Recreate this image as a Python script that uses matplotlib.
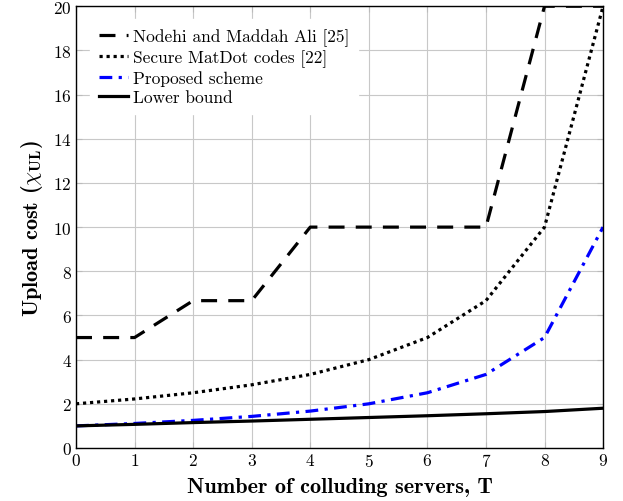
import matplotlib
matplotlib.use("Agg")
import matplotlib.pyplot as plt

plt.rcParams['font.family'] = ['cmr10', 'DejaVu Serif']
plt.rcParams['mathtext.fontset'] = 'cm'
plt.rcParams['axes.formatter.use_mathtext'] = True

T = [0, 1, 2, 3, 4, 5, 6, 7, 8, 9]
nodehi = [5, 5, 6.67, 6.67, 10, 10, 10, 10, 20, 20]
matdot = [2, 2.22, 2.5, 2.86, 3.33, 4, 5, 6.67, 10, 20]
proposed = [1, 1.11, 1.25, 1.43, 1.67, 2, 2.5, 3.33, 5, 10]
lower = [1, 1.07, 1.15, 1.22, 1.3, 1.38, 1.46, 1.55, 1.65, 1.8]

fig = plt.figure(figsize=(6.23, 5.02), dpi=100)
ax = fig.add_axes([0.122, 0.1056, 0.846, 0.880])

ax.plot(T, nodehi, color='black', lw=2.3, dashes=(5, 3.5), label='Nodehi and Maddah Ali [25]')
ax.plot(T, matdot, color='black', lw=2.3, dashes=(1, 1.2), label='Secure MatDot codes [22]')
ax.plot(T, proposed, color='blue', lw=2.3, dashes=(4, 2, 1, 2), label='Proposed scheme')
ax.plot(T, lower, color='black', lw=2.3, label='Lower bound')

ax.set_xlim(0, 9)
ax.set_ylim(0, 20)
ax.set_xticks(range(0, 10))
ax.set_yticks(range(0, 21, 2))
ax.grid(color='#c8c8c8', lw=0.8)
ax.set_axisbelow(True)
ax.tick_params(direction='in', top=True, right=True, labelsize=12.5, length=4, color='#bbbbbb', pad=3)
for s in ax.spines.values():
    s.set_linewidth(1.0)

ax.set_xlabel('Number of colluding servers, T', fontfamily='cmb10', fontsize=16, labelpad=6)
ax.set_ylabel(r'Upload cost ($\chi_{\mathbf{UL}}$)', fontfamily='cmb10', fontsize=16, labelpad=6)

leg = ax.legend(loc='upper left', fontsize=12.5, frameon=True, fancybox=False,
                edgecolor='white', framealpha=1, handlelength=1.7, borderpad=0.5,
                labelspacing=0.2, handletextpad=0.3, bbox_to_anchor=(0.01, 0.99))

fig.savefig('out.png', dpi=100)
